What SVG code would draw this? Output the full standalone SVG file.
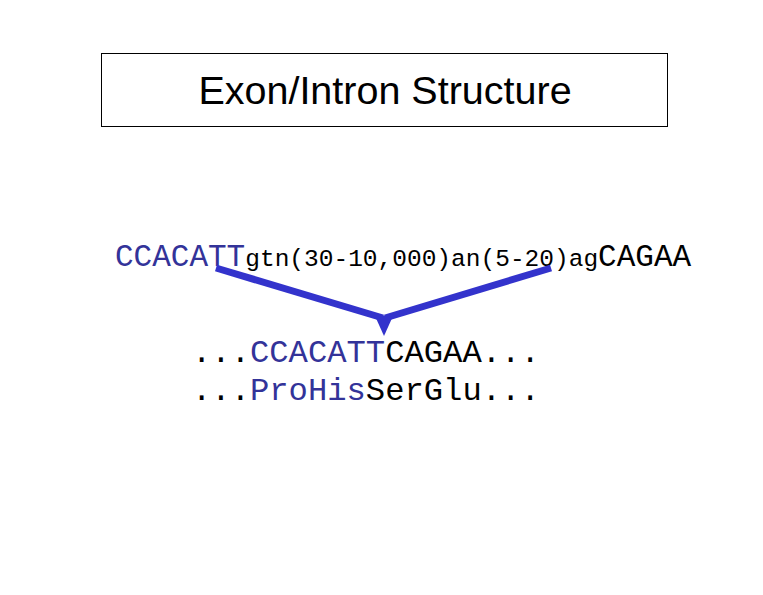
<svg xmlns="http://www.w3.org/2000/svg" width="763" height="595" viewBox="0 0 763 595">
<style>
.mono{font-family:"Liberation Mono","Courier New",monospace;}
.blue{fill:#333399;}
.blk{fill:#000000;}
.conn{stroke:#3333CC;stroke-width:7;fill:none;}
</style>
<rect width="763" height="595" fill="#ffffff"/>
<g id="title">
<rect x="101.5" y="53.5" width="566" height="73" fill="#ffffff" stroke="#000000" stroke-width="1"/>
<text x="385" y="104" text-anchor="middle" font-family="Liberation Sans, Arial, sans-serif" font-size="39.5" fill="#000000">Exon/Intron Structure</text>
</g>
<g id="gene">
<text class="mono" x="115" y="266" font-size="31"><tspan class="blue">CCACATT</tspan><tspan class="blk" font-size="24.5">gtn(30-10,000)an(5-20)ag</tspan><tspan class="blk">CAGAA</tspan></text>
</g>
<g id="connectors">
<line class="conn" x1="216" y1="268" x2="383" y2="318"/>
<line class="conn" x1="551" y1="268" x2="385" y2="318"/>
<polygon points="375,316 393,316 384,336" fill="#3333CC"/>
</g>
<g id="mrna">
<text class="mono" x="192" y="362" font-size="32.2"><tspan class="blk">...</tspan><tspan class="blue">CCACATT</tspan><tspan class="blk">CAGAA...</tspan></text>
</g>
<g id="protein">
<text class="mono" x="192" y="400" font-size="32.2"><tspan class="blk">...</tspan><tspan class="blue">ProHis</tspan><tspan class="blk">SerGlu...</tspan></text>
</g>
</svg>
